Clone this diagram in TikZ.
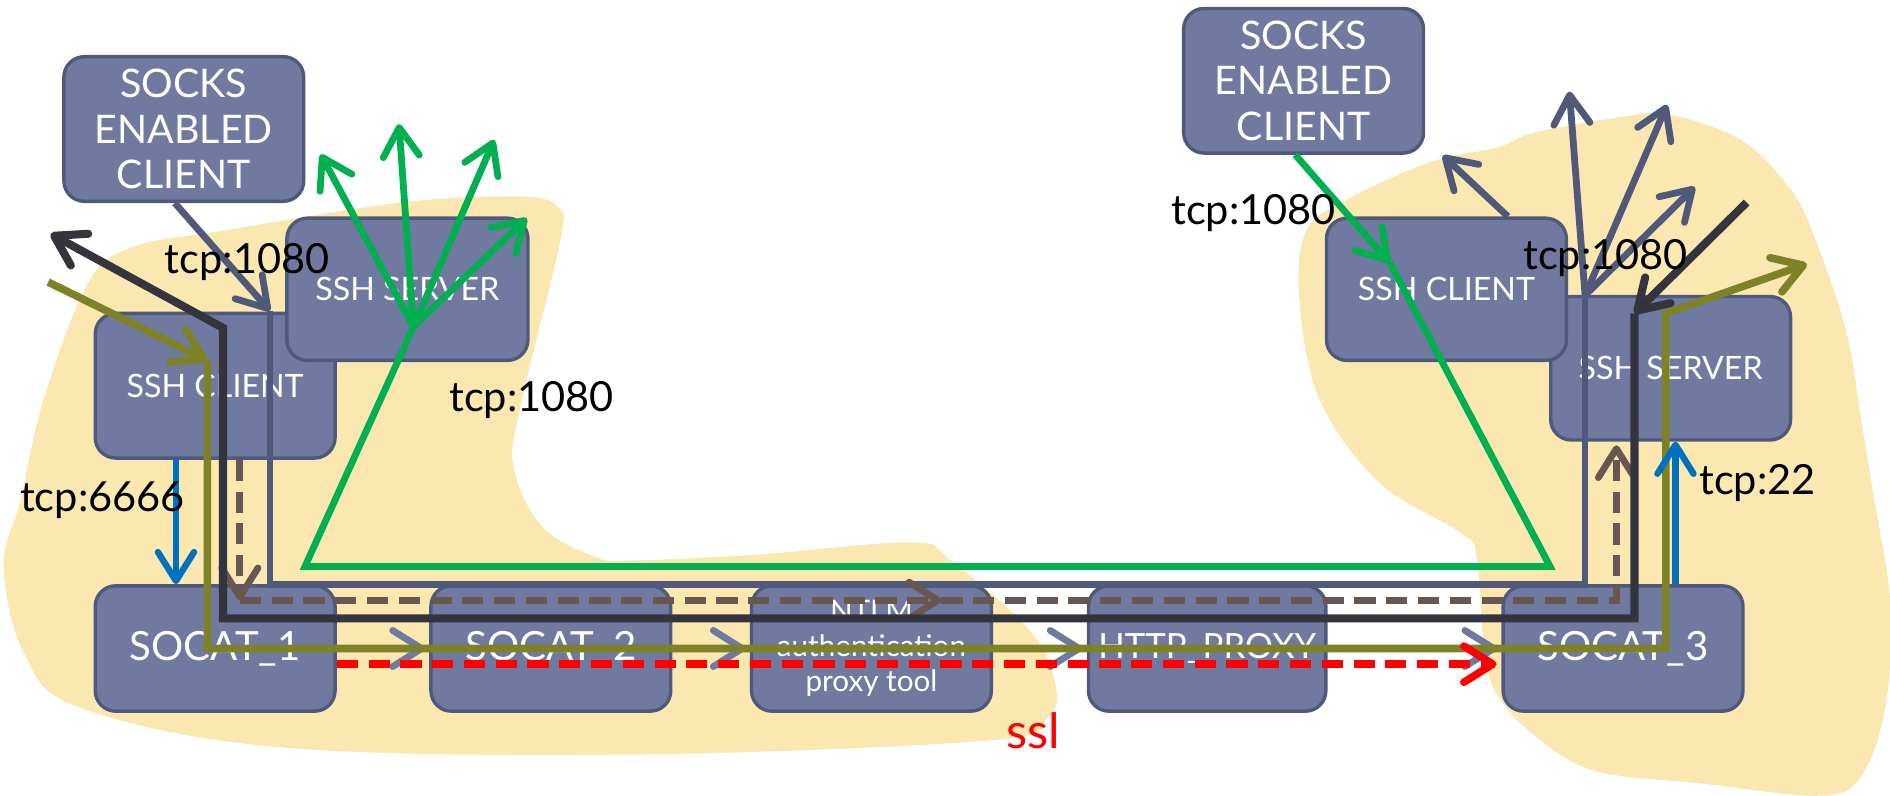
\documentclass[tikz,border=0pt]{standalone}
\usepackage{fontspec}
\setmainfont{Lato}
\usepackage{tikz}
\usetikzlibrary{arrows.meta}
\definecolor{boxfill}{RGB}{112,122,160}
\definecolor{boxline}{RGB}{80,89,122}
\definecolor{blobyellow}{RGB}{251,232,176}
\definecolor{tunnelgreen}{RGB}{0,176,80}
\definecolor{tunnelolive}{RGB}{126,130,38}
\definecolor{tunneldark}{RGB}{52,52,62}
\definecolor{tunnelbrown}{RGB}{104,87,80}
\definecolor{portblue}{RGB}{0,112,192}
\definecolor{sslred}{RGB}{255,0,0}

\begin{document}
\begin{tikzpicture}[
    >={Straight Barb[length=2.4mm, width=3mm, round]},
    box/.style={rectangle, rounded corners=0.17cm, draw=boxline, fill=boxfill, line width=0.8pt, text=white, align=center, inner sep=0pt, minimum width=1.99cm, minimum height=1.2cm},
    socktxt/.style={font=\fontsize{9.3}{10.7}\selectfont},
    sshtxt/.style={font=\fontsize{7.6}{9}\selectfont, minimum height=1.18cm},
    socattxt/.style={font=\fontsize{9.5}{11}\selectfont, minimum height=1.04cm},
    lbl/.style={font=\fontsize{9.8}{11}\selectfont, inner sep=0pt},
    blob/.style={fill=blobyellow},
    chev/.style={line width=1.6pt, boxfill, shorten >=1pt},
    slateline/.style={line width=1.6pt, boxline},
    greenline/.style={line width=1.6pt, tunnelgreen},
    darkline/.style={line width=1.9pt, tunneldark},
    oliveline/.style={line width=1.8pt, tunnelolive},
    brownline/.style={line width=1.6pt, tunnelbrown, dash pattern=on 5pt off 2.5pt},
    redline/.style={line width=1.8pt, sslred, dash pattern=on 5pt off 2.5pt},
    blueline/.style={line width=1.5pt, portblue}
]
\useasboundingbox (0,0) rectangle (15.68,-6.60);

% Yellow areas
\fill[blob] plot[smooth cycle, tension=0.6] coordinates {(0.36,-3.32) (0.73,-2.35) (1.10,-2.05) (1.87,-1.91) (3.33,-1.68) (4.33,-1.63) (4.63,-1.72) (4.65,-1.99) (4.33,-3.32) (4.26,-3.87) (4.50,-4.37) (4.94,-4.62) (5.23,-4.65) (6.30,-4.60) (7.56,-4.50) (7.89,-4.65) (8.56,-5.25) (8.76,-5.70) (8.69,-5.95) (8.23,-6.14) (5.23,-6.26) (2.33,-6.20) (0.66,-5.87) (0.20,-5.42) (0.03,-4.70) (0.17,-4.15)};
\fill[blob] plot[smooth cycle, tension=0.6] coordinates {(10.78,-2.49) (10.83,-1.93) (11.13,-1.68) (11.85,-1.35) (12.43,-1.22) (12.73,-1.10) (13.45,-0.97) (13.85,-0.95) (14.44,-1.16) (14.84,-1.55) (15.04,-1.93) (15.32,-2.76) (15.44,-3.48) (15.55,-4.15) (15.68,-4.98) (15.65,-5.81) (15.46,-6.41) (15.12,-6.60) (14.12,-6.50) (13.25,-6.40) (12.78,-6.14) (12.45,-5.81) (12.32,-5.45) (12.25,-4.62) (12.12,-4.42) (11.45,-4.01) (10.95,-3.32)};

% Boxes
\node[box, socktxt] (socksL) at (1.525,-1.07) {SOCKS\\ENABLED\\CLIENT};
\node[box, sshtxt, minimum height=1.2cm] (sshcliL) at (1.785,-3.20) {SSH CLIENT};
\node[box, sshtxt, minimum width=2cm] (sshsrvL) at (3.38,-2.40) {SSH SERVER};
\node[box, socattxt] (socat1) at (1.785,-5.38) {SOCAT\_1};
\node[box, socattxt] (socat2) at (4.57,-5.38) {SOCAT\_2};
\node[box, socattxt, font=\fontsize{7}{8.2}\selectfont] (ntlm) at (7.23,-5.38) {NTLM\\authentication\\proxy tool};
\node[box, socattxt, minimum width=1.97cm, font=\fontsize{8.2}{10}\selectfont] (http) at (10.015,-5.38) {HTTP\_PROXY};
\node[box, socattxt] (socat3) at (13.465,-5.38) {SOCAT\_3};
\node[box, sshtxt, minimum height=1.19cm] (sshsrvR) at (13.86,-3.055) {SSH SERVER};
\node[box, sshtxt] (sshcliR) at (12.00,-2.40) {SSH CLIENT};
\node[box, socktxt] (socksR) at (10.815,-0.67) {SOCKS\\ENABLED\\CLIENT};

% Chain between socat boxes
\draw[chev, ->] (socat1) -- (socat2);
\draw[chev, ->] (socat2) -- (ntlm);
\draw[chev, ->] (ntlm) -- (http);
\draw[chev, ->] (http) -- (socat3);

% Bend points
\coordinate (slTip) at (2.24,-2.58);
\coordinate (slBL) at (2.24,-4.85);
\coordinate (slBR) at (13.15,-4.85);
\coordinate (fanR) at (13.15,-2.45);
\coordinate (grFan) at (3.43,-2.71);
\coordinate (grBL) at (2.53,-4.70);
\coordinate (grBR) at (12.86,-4.70);
\coordinate (grTip) at (11.53,-2.18);
\coordinate (bkStart) at (14.49,-1.68);
\coordinate (bkR) at (13.56,-2.60);
\coordinate (bkBR) at (13.56,-5.13);
\coordinate (bkBL) at (1.85,-5.13);
\coordinate (bkL) at (1.85,-2.72);
\coordinate (bkEnd) at (0.42,-1.94);
\coordinate (olStart) at (0.40,-2.34);
\coordinate (olTip) at (1.72,-2.99);
\coordinate (olBL) at (1.72,-5.38);
\coordinate (olBR) at (13.82,-5.38);
\coordinate (olR) at (13.82,-2.60);
\coordinate (olEnd) at (14.99,-2.19);
\coordinate (brBL) at (1.99,-4.98);
\coordinate (brMid) at (7.81,-4.98);
\coordinate (brBR) at (13.41,-4.98);

% Slate path (socks client to remote fan)
\draw[slateline, ->] ([xshift=-0.075cm]socksL.south) -- (slTip);
\draw[slateline] (slTip) -- (slBL) -- (slBR) -- (fanR);
\foreach \p in {(13.02,-0.76), (13.83,-0.87), (14.06,-1.55)}
    \draw[slateline, ->] (fanR) -- \p;
\draw[slateline, ->] ([xshift=0.51cm]sshcliR.north) -- (11.97,-1.29);

% Green path
\draw[greenline, ->] ([xshift=-0.07cm]socksR.south) -- (grTip);
\draw[greenline] (grTip) -- (grBR) -- (grBL) -- (grFan);
\foreach \p in {(2.66,-1.28), (3.31,-1.03), (4.10,-1.16), (4.37,-1.81)}
    \draw[greenline, ->] (grFan) -- \p;

% Dashed tunnel
\draw[brownline, ->] (brBL |- sshcliL.south) -- (brBL);
\draw[brownline, ->] (brBL) -- (brMid);
\draw[brownline, ->] (brMid) -- (brBR) -- ([yshift=-0.03cm]brBR |- sshsrvR.south);

% Dark path
\draw[darkline, ->] (bkStart) -- (bkR);
\draw[darkline, ->] (bkR) -- (bkBR) -- (bkBL) -- (bkL) -- (bkEnd);

% Olive path
\draw[oliveline, ->] (olStart) -- (olTip);
\draw[oliveline, ->] (olTip) -- (olBL) -- (olBR) -- (olR) -- (olEnd);

% ssl
\draw[redline, ->] ([yshift=-0.13cm]socat1.east) -- ([xshift=-0.04cm, yshift=-0.13cm]socat3.west);

% Ports
\draw[blueline, ->] ([xshift=-0.325cm]sshcliL.south) -- ([xshift=-0.325cm]socat1.north);
\draw[blueline, ->] ([xshift=0.435cm]socat3.north) -- ([xshift=0.435cm]socat3.north |- sshsrvR.south);

% Labels
\node[lbl] (tcpA) at (2.05,-2.17) {tcp:1080};
\node[lbl] (tcpB) at (4.41,-3.32) {tcp:1080};
\node[lbl] (tcpC) at (10.40,-1.77) {tcp:1080};
\node[lbl] (tcpD) at (13.32,-2.14) {tcp:1080};
\node[lbl] (tcp6666) at (0.85,-4.15) {tcp:6666};
\node[lbl] (tcp22) at (14.58,-4.01) {tcp:22};
\node[lbl, text=sslred, font=\fontsize{11.5}{13}\selectfont] (ssl) at (8.57,-6.06) {ssl};
\end{tikzpicture}
\end{document}
